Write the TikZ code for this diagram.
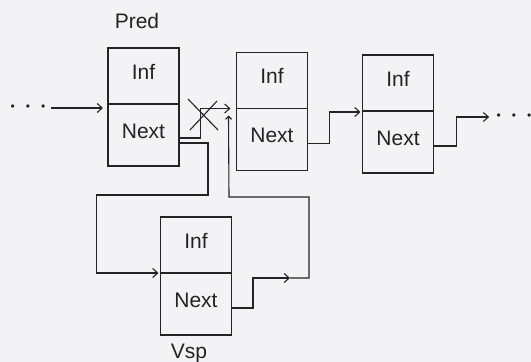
\documentclass[tikz,border=0pt]{standalone}
\usepackage{fontspec}
\setmainfont{Liberation Sans}
\usepackage{tikz}
\usetikzlibrary{positioning}
\usetikzlibrary{arrows.meta}
\definecolor{paper}{RGB}{243,243,245}
\definecolor{ink}{RGB}{35,35,35}

\begin{document}
\begin{tikzpicture}[x=1pt, y=-1pt, line width=1.1pt, color=ink,
	infbox/.style={draw, outer sep=0pt, minimum width=71pt, minimum height=56pt, text height=15pt, text depth=9pt, font=\fontsize{21}{24}\selectfont},
	nextbox/.style={draw, outer sep=0pt, minimum width=71pt, minimum height=62pt, text height=15pt, text depth=9pt, font=\fontsize{21}{24}\selectfont},
	lbl/.style={font=\fontsize{21}{24}\selectfont},
	dots/.style={font=\fontsize{12}{12}\selectfont, inner sep=2pt},
	arr/.style={-{Straight Barb[length=5pt, width=9pt]}}]
	\fill[paper] (0,0) rectangle (531,362);
	\useasboundingbox (0,0) rectangle (531,362);

	\node[infbox] (predI) at (143.5,76) {Inf};
	\node[nextbox, below=0pt of predI] (predN) {Next};
	\node[infbox] (b2I) at (272,80.5) {Inf};
	\node[nextbox, below=0pt of b2I] (b2N) {Next};
	\node[infbox] (b3I) at (398,83) {Inf};
	\node[nextbox, below=0pt of b3I] (b3N) {Next};
	\node[infbox] (vspI) at (196,245) {Inf};
	\node[nextbox, below=0pt of vspI] (vspN) {Next};

	\node[lbl, above=15pt of predI, xshift=-6.5pt] (pred) {Pred};
	\node[lbl, below=5pt of vspN, xshift=-7pt] (vsp) {Vsp};

	\node[dots] (dotsL) at (28,108) {\textbullet\hspace{11pt}\textbullet\hspace{11pt}\textbullet};
	\node[dots] (dotsR) at (514,117) {\textbullet\hspace{11pt}\textbullet\hspace{11pt}\textbullet};

	\draw[arr] ([xshift=3pt]dotsL.east) -- ([xshift=-5pt,yshift=-4pt]predN.north west);

	% old link, crossed out
	\draw[arr] ([yshift=-3pt]predN.east) -| ([xshift=-36pt]b2N.north west) -- ([xshift=-6pt]b2N.north west);
	\coordinate (cut) at (203,115);
	\draw (cut) ++(-15,-16) -- ++(30,31);
	\draw (cut) ++(-13,15) -- ++(27,-29);

	% new links
	\draw[arr] ([yshift=-8pt]predN.east) -| (208,195) -| ([xshift=-64pt]vspN.north west) -- ([xshift=-2pt]vspN.north west);
	\draw[arr] ([yshift=-4pt]vspN.east) -| (253,278) -- (290,278);
	\draw[-{Straight Barb[length=3pt, width=6pt]}] (290,278) -- (309,278) |- (229,197) -- ([xshift=-8pt,yshift=-7pt]b2N.north west);

	\draw[arr] ([yshift=-4pt]b2N.east) -| ([xshift=-33pt,yshift=-1pt]b3N.north west) -- ([xshift=-2pt,yshift=-1pt]b3N.north west);
	\draw[arr] ([yshift=-4pt]b3N.east) -| ([xshift=-38pt]dotsR.west) -- ([xshift=-5pt]dotsR.west);
\end{tikzpicture}
\end{document}
